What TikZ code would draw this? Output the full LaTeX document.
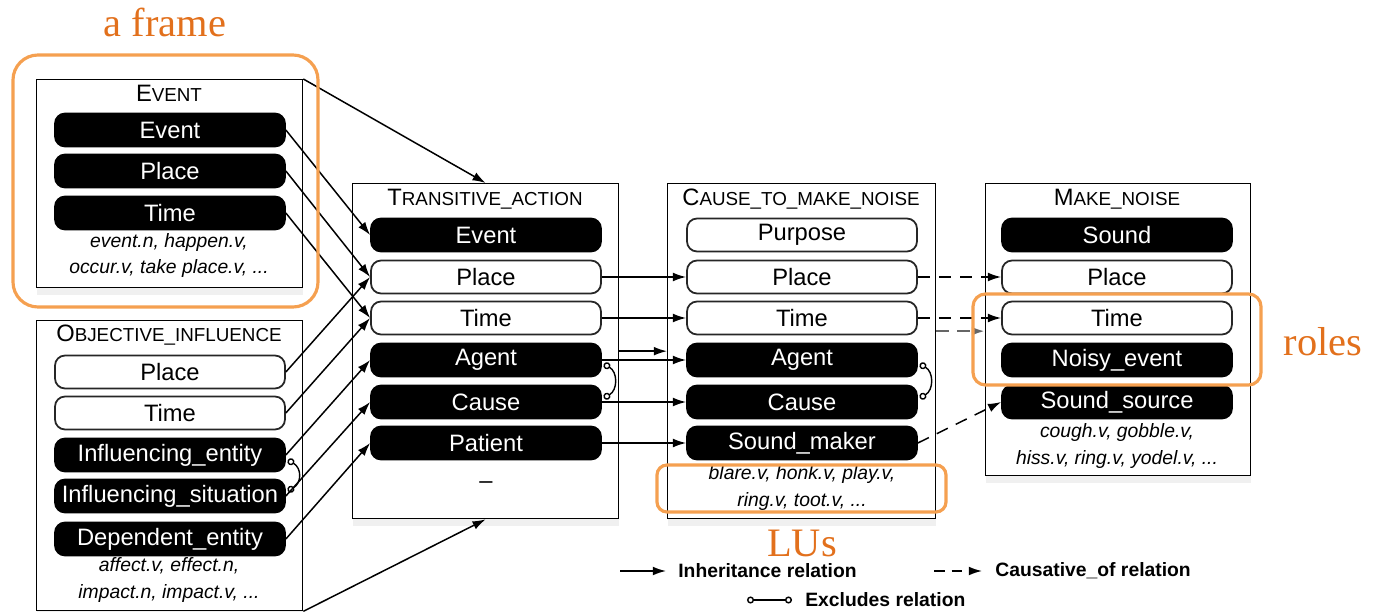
\documentclass[tikz,border=0pt]{standalone}
\usepackage{fontspec}
\setmainfont{Liberation Sans}
\newfontfamily\orfont{Liberation Serif}
\usetikzlibrary{arrows.meta,shadows}
\definecolor{lblorange}{RGB}{226,112,28}
\definecolor{boxorange}{RGB}{245,160,80}
\newcommand{\fsc}[2]{{\fontsize{13.5}{14}\selectfont #1}{\fontsize{10.7}{12}\selectfont #2}}
\tikzset{
  role/.style={rounded corners=0.2cm, minimum width=4.6cm, minimum height=0.66cm, inner sep=0pt, font=\fontsize{13.5}{14}\selectfont, line width=1pt},
  core/.style={role, fill=black, draw=black, text=white},
  opt/.style={role, fill=white, draw=black!85, text=black},
  frm/.style={draw=black, line width=0.8pt, fill=white, anchor=north west, inner sep=0pt,
    drop shadow={opacity=0.12, shadow xshift=0pt, shadow yshift=-4pt}},
  ttl/.style={inner sep=0pt},
  lu/.style={font=\fontsize{11}{14.8}\selectfont\itshape, align=center, inner sep=0pt},
  inh/.style={-{Latex[length=7.5pt,width=5pt]}, line width=0.85pt},
  cau/.style={inh, dash pattern=on 7pt off 5pt},
  excl/.style={{Circle[open,length=4pt]}-{Circle[open,length=4pt]}, line width=0.8pt},
  orbox/.style={draw=boxorange, line width=1.8pt},
  orlbl/.style={text=lblorange, font=\orfont\fontsize{23}{25}\selectfont, inner sep=0pt},
  leg/.style={font=\bfseries\fontsize{11}{12}\selectfont, anchor=west, inner sep=0pt},
}
\begin{document}
\begin{tikzpicture}[x=0.02cm, y=-0.02cm]
\useasboundingbox (0,0) rectangle (1374,612);

% ---------- frames ----------
\node[frm, minimum width=5.32cm, minimum height=4.16cm] (evF) at (36,79) {};
\node[frm, minimum width=5.32cm, minimum height=5.8cm] (oiF) at (36,320) {};
\node[frm, minimum width=5.32cm, minimum height=6.7cm] (taF) at (352,183) {};
\node[frm, minimum width=5.36cm, minimum height=6.7cm] (ctF) at (667,183) {};
\node[frm, minimum width=5.3cm, minimum height=5.84cm] (mnF) at (985,183) {};

% ---------- EVENT ----------
\node[ttl] (evT) at (169,93) {\fsc{E}{VENT}};
\node[core] (eEvent) at (170,130) {Event};
\node[core] (ePlace) at (170,171) {Place};
\node[core] (eTime) at (170,213) {Time};
\node[lu] (eLU) at (169,256) {event.n, happen.v,\\occur.v, take place.v, ...};

% ---------- OBJECTIVE_INFLUENCE ----------
\node[ttl] (oiT) at (169,335) {\fsc{O}{BJECTIVE\_INFLUENCE}};
\node[opt] (oPlace) at (170,372) {Place};
\node[opt] (oTime) at (170,413) {Time};
\node[core] (oIE) at (170,455) {Influencing\_entity};
\node[core] (oIS) at (170,496) {Influencing\_situation};
\node[core] (oDE) at (170,539) {Dependent\_entity};
\node[lu] (oLU) at (169,580) {affect.v, effect.n,\\impact.n, impact.v, ...};

% ---------- TRANSITIVE_ACTION ----------
\node[ttl] (taT) at (485,199) {\fsc{T}{RANSITIVE\_ACTION}};
\node[core] (tEvent) at (486,235) {Event};
\node[opt] (tPlace) at (486,277) {Place};
\node[opt] (tTime) at (486,318) {Time};
\node[core] (tAgent) at (486,360) {Agent};
\node[core] (tCause) at (486,402) {Cause};
\node[core] (tPatient) at (486,443) {Patient};
\node[lu, font=\fontsize{13.5}{14}\selectfont] (tLU) at (486,485) {--};

% ---------- CAUSE_TO_MAKE_NOISE ----------
\node[ttl] (ctT) at (801,199) {\fsc{C}{AUSE\_TO\_MAKE\_NOISE}};
\node[opt] (cPurpose) at (802,235) {Purpose};
\node[opt] (cPlace) at (802,277) {Place};
\node[opt] (cTime) at (802,318) {Time};
\node[core] (cAgent) at (802,360) {Agent};
\node[core] (cCause) at (802,402) {Cause};
\node[core] (cSM) at (802,443) {Sound\_maker};
\node[lu] (cLU) at (802,488) {blare.v, honk.v, play.v,\\ring.v, toot.v, ...};

% ---------- MAKE_NOISE ----------
\node[ttl] (mnT) at (1117,199) {\fsc{M}{AKE\_NOISE}};
\node[core] (mSound) at (1117,235) {Sound};
\node[opt] (mPlace) at (1117,277) {Place};
\node[opt] (mTime) at (1117,318) {Time};
\node[core] (mNoisy) at (1117,360) {Noisy\_event};
\node[core] (mSS) at (1117,402) {Sound\_source};
\node[lu] (mLU) at (1117,446) {cough.v, gobble.v,\\hiss.v, ring.v, yodel.v, ...};

% ---------- inheritance: Event / Objective_influence -> Transitive_action ----------
\draw[inh] (evF.north east) -- (taF.north);
\draw[inh] (oiF.south east) -- (taF.south);
\draw[inh] (eEvent.east) -- (tEvent.west);
\draw[inh] (ePlace.east) -- (tPlace.west);
\draw[inh] (eTime.east) -- (tTime.west);
\draw[inh] (oPlace.east) -- (tPlace.west);
\draw[inh] (oTime.east) -- (tTime.west);
\draw[inh] (oIE.east) -- (tAgent.west);
\draw[inh] (oIS.east) -- (tCause.west);
\draw[inh] (oDE.east) -- (tPatient.west);

% ---------- inheritance: Transitive_action -> Cause_to_make_noise ----------
\draw[inh] (taF.east) -- (ctF.west);
\draw[inh] (tPlace.east) -- (cPlace.west);
\draw[inh] (tTime.east) -- (cTime.west);
\draw[inh] (tAgent.east) -- (cAgent.west);
\draw[inh] (tCause.east) -- (cCause.west);
\draw[inh] (tPatient.east) -- (cSM.west);

% ---------- causative: Cause_to_make_noise -> Make_noise ----------
\draw[cau, draw=black!60, line width=1.4pt] ([yshift=0.4cm]ctF.east) -- ([yshift=0.4cm]ctF.east -| mnF.west);
\draw[cau] (cPlace.east) -- (mPlace.west);
\draw[cau] (cTime.east) -- (mTime.west);
\draw[cau] (cSM.east) -- (mSS.west);

% ---------- excludes ----------
\draw[excl] ([shift={(2,5)}]oIE.east) .. controls +(14,8) and +(14,-8) .. ([shift={(2,-5)}]oIS.east);
\draw[excl] ([shift={(2,4)}]tAgent.east) .. controls +(14,8) and +(14,-8) .. ([shift={(2,-4)}]tCause.east);
\draw[excl] ([shift={(2,4)}]cAgent.east) .. controls +(14,8) and +(14,-8) .. ([shift={(2,-4)}]cCause.east);

% ---------- orange annotations ----------
\draw[orbox, rounded corners=0.5cm] (13,55) rectangle (318,307);
\draw[orbox, rounded corners=0.2cm] (657,465) rectangle (946,512);
\draw[orbox, rounded corners=0.25cm] (973,294) rectangle (1261,385);
\node[orlbl] (lblFrame) at (165,22) {a frame};
\node[orlbl] (lblRoles) at (1323,342) {roles};
\node[orlbl] (lblLU) at (802,543) {LUs};

% ---------- legend ----------
\coordinate (l1a) at (620,571);
\coordinate (l1b) at (666,571);
\draw[inh] (l1a) -- (l1b);
\node[leg] (legInh) at (678,571) {Inheritance relation};
\coordinate (l2a) at (934,571);
\coordinate (l2b) at (982,571);
\draw[inh, dash pattern=on 6pt off 4pt] (l2a) -- (l2b);
\node[leg] (legCau) at (995,571) {Causative\_of relation};
\coordinate (l3a) at (747,600);
\coordinate (l3b) at (792,600);
\draw[excl] (l3a) -- (l3b);
\node[leg] (legExc) at (805,600) {Excludes relation};
\end{tikzpicture}
\end{document}
